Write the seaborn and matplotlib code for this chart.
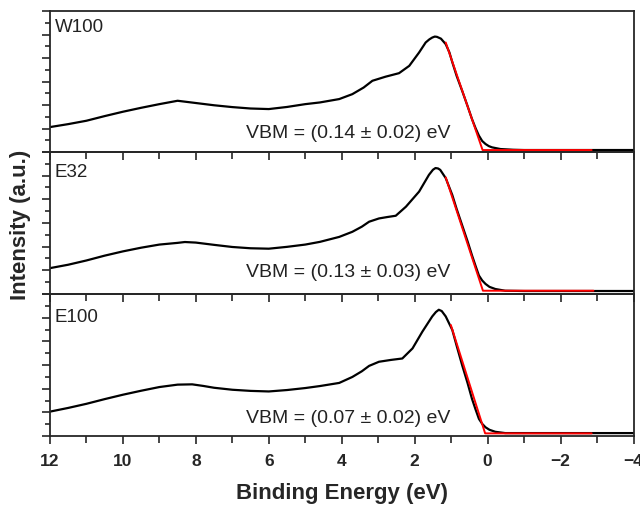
"""Valence band spectra (W100, E32, E100) with linear VBM extrapolation."""
import matplotlib.pyplot as plt
import numpy as np
import pandas as pd
import seaborn as sns
from matplotlib.ticker import MultipleLocator

# binding energy (eV) and intensity (a.u.)
be_w100 = [12, 11.5, 11, 10.5, 10, 9.5, 9, 8.5, 8, 7.5, 7, 6.5, 6, 5.5, 5, 4.6,
           4.07, 3.71, 3.4, 3.16, 2.8, 2.43, 2.15, 1.88, 1.70, 1.60, 1.52, 1.45,
           1.39, 1.28, 1.15, 1.05, 0.97, 0.85, 0.70, 0.55, 0.43, 0.33, 0.24, 0.15,
           0.06, -0.03, -0.12, -0.35, -0.7, -1, -4]
int_w100 = [17.7, 19.8, 22.2, 25.5, 28.6, 31.4, 34.0, 36.4, 34.8, 33.2, 31.9, 30.9,
            30.5, 32.0, 34.0, 35.2, 37.6, 41.1, 45.8, 50.6, 53.5, 56.0, 61.2, 70.7,
            77.8, 80.0, 81.3, 82.0, 81.8, 80.5, 76.6, 70.8, 63.8, 54.0, 43.5, 32.5,
            23.4, 16.8, 11.6, 7.8, 5.7, 4.2, 3.3, 2.1, 1.6, 1.4, 1.4]
fit_be_w100 = [1.15, 0.14, -2.85]
fit_int_w100 = [77.8, 1.4, 1.4]

be_e32 = [12, 11.5, 11, 10.5, 10, 9.5, 9, 8.5, 8.3, 8, 7.5, 7, 6.5, 6, 5.5, 5,
          4.6, 4.07, 3.71, 3.45, 3.25, 2.98, 2.75, 2.52, 2.24, 1.88, 1.61, 1.50,
          1.43, 1.36, 1.30, 1.15, 0.97, 0.85, 0.70, 0.55, 0.43, 0.33, 0.24, 0.15,
          0.06, -0.05, -0.21, -0.48, -1, -4]
int_e32 = [18.2, 20.6, 23.6, 27.0, 30.0, 32.6, 34.8, 36.0, 36.6, 36.2, 34.6, 33.1,
           32.2, 31.9, 33.2, 34.8, 36.7, 40.2, 43.8, 47.4, 50.9, 53.2, 54.2, 55.1,
           61.5, 72.1, 83.9, 87.5, 88.7, 88.4, 87.4, 81.6, 69.7, 59.8, 48.4, 37.0,
           27.2, 19.6, 13.0, 9.5, 7.1, 5.0, 3.5, 2.3, 2.1, 2.1]
fit_be_e32 = [1.15, 0.13, -2.9]
fit_int_e32 = [82.1, 2.3, 2.3]

be_e100 = [12, 11.5, 11, 10.5, 10, 9.5, 9, 8.5, 8.1, 7.8, 7.5, 7, 6.5, 6, 5.5, 5,
           4.6, 4.07, 3.71, 3.45, 3.25, 2.98, 2.65, 2.34, 2.06, 1.79, 1.52, 1.42,
           1.34, 1.26, 1.15, 0.97, 0.85, 0.70, 0.55, 0.43, 0.33, 0.24, 0.15, 0.06,
           -0.05, -0.21, -0.48, -1, -4]
int_e100 = [17.2, 19.8, 22.7, 26.0, 29.1, 31.9, 34.5, 36.2, 36.4, 35.3, 34.0, 32.6,
            31.8, 31.4, 32.4, 33.8, 35.2, 37.4, 41.6, 45.6, 49.4, 52.3, 53.6, 54.6,
            61.7, 73.5, 84.2, 87.3, 88.9, 88.0, 84.2, 74.7, 63.5, 49.9, 37.2, 26.2,
            18.6, 12.1, 8.6, 6.2, 4.4, 3.0, 2.1, 2.1, 2.1]
fit_be_e100 = [1.01, 0.07, -2.85]
fit_int_e100 = [78.2, 1.9, 1.9]

samples = ["W100", "E32", "E100"]
vbm_labels = ["VBM = (0.14 ± 0.02) eV", "VBM = (0.13 ± 0.03) eV",
              "VBM = (0.07 ± 0.02) eV"]
spectra = [(be_w100, int_w100, fit_be_w100, fit_int_w100),
           (be_e32, int_e32, fit_be_e32, fit_int_e32),
           (be_e100, int_e100, fit_be_e100, fit_int_e100)]

sns.set_style("ticks")
plt.rcParams["font.family"] = ["Liberation Sans", "DejaVu Sans"]

fig = plt.figure(figsize=(6.4, 5.1), dpi=100)
bottoms = [0.700, 0.4216, 0.143]
heights = [0.276, 0.2784, 0.2786]
label_y = [89, 86, 84]
vbm_y = [14, 16, 13.4]

for i, (name, (be, inten, fbe, fint)) in enumerate(zip(samples, spectra)):
    ax = fig.add_axes([0.078, bottoms[i], 0.912, heights[i]])
    df = pd.DataFrame({"be": be, "I": inten})
    fit = pd.DataFrame({"be": fbe, "I": fint})
    sns.lineplot(data=df, x="be", y="I", color="black", lw=1.6, ax=ax)
    sns.lineplot(data=fit, x="be", y="I", color="red", lw=1.4, ax=ax)

    ax.set_xlim(12, -4)
    ax.set_ylim(0, 100)
    ax.set_xlabel("")
    ax.set_ylabel("")
    ax.xaxis.set_major_locator(MultipleLocator(2))
    ax.xaxis.set_minor_locator(MultipleLocator(1))
    ax.yaxis.set_major_locator(MultipleLocator(100 / 6))
    ax.yaxis.set_minor_locator(MultipleLocator(100 / 12))
    ax.tick_params(axis="x", which="major", direction="out", length=6, width=1.2)
    ax.tick_params(axis="x", which="minor", direction="out", length=5, width=1.2)
    ax.tick_params(axis="y", which="major", direction="out", length=6, width=1.2,
                   labelleft=False)
    ax.tick_params(axis="y", which="minor", direction="out", length=3.5, width=1.2)
    for sp in ax.spines.values():
        sp.set_visible(True)
        sp.set_linewidth(1.3)
    if i < 2:
        ax.tick_params(axis="x", labelbottom=False)
    else:
        ax.tick_params(axis="x", labelsize=12.5, pad=6)
        for t in ax.get_xticklabels():
            t.set_fontweight("bold")
        ax.set_xlabel("Binding Energy (eV)", fontsize=16, fontweight="bold",
                      labelpad=10)
    ax.set_zorder(3 - i)
    ax.patch.set_alpha(0)

    ax.text(11.87, label_y[i], name, fontsize=13.5, color="#222222",
            ha="left", va="center")
    ax.text(1.02, vbm_y[i], vbm_labels[i], fontsize=14, color="#222222",
            ha="right", va="center")

fig.text(0.032, 0.56, "Intensity (a.u.)", rotation=90, fontsize=16,
         fontweight="bold", ha="center", va="center")

plt.savefig("out.png", dpi=100)
plt.close(fig)
